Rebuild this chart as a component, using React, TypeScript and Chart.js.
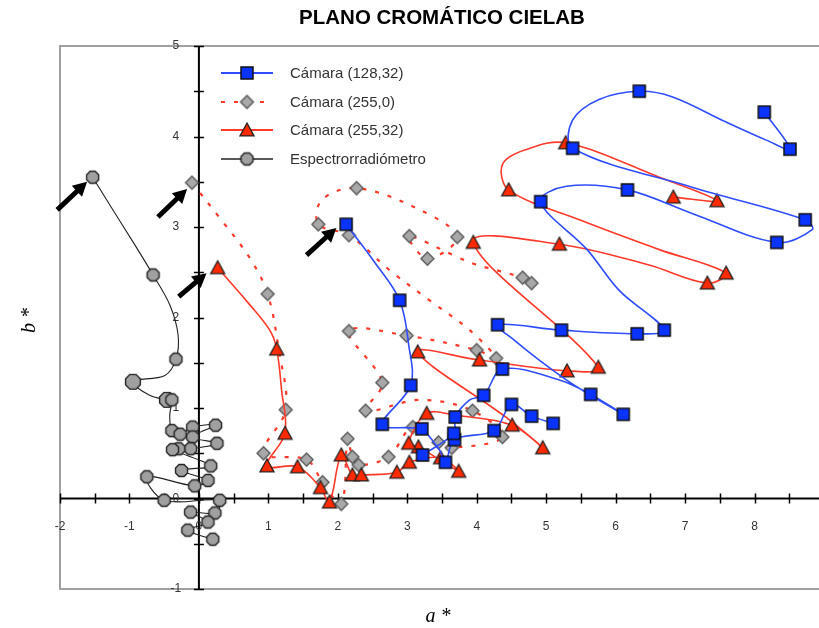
import React, { useEffect, useRef } from "react";
import { Chart, registerables } from "chart.js";

Chart.register(...registerables);

// Axis ranges and tick labels of the CIELAB a*/b* plane
const aRange = [-2, 9];
const bRange = [-1, 5];
const aTickLabels = [-2, -1, 0, 1, 2, 3, 4, 5, 6, 7, 8, 9];
const bTickLabels = [-1, 0, 1, 2, 3, 4, 5];
const chartTitle = "PLANO CROMÁTICO CIELAB";
const seriesNames = ["Cámara (128,32)", "Cámara (255,0)", "Cámara (255,32)", "Espectrorradiómetro"];

// Each trace: a*, b*, and a flag per sample (1 = measured sample with marker,
// 2 = measured sample drawn larger, 0 = point on the fitted curve). null breaks the trace.
const cam128A = [2.12, 2.53, 2.89, 3.02, 3.05, 2.64, 3.06, 3.21, 3.46, 3.55, 3.68, 4.25, 4.5, 4.79, 5.1,
  null,
  3.22, 3.67, 3.69, 3.9, 4.1, 4.37, 5.19, 5.64, 6.11, 5.41, 4.9, 4.54, 4.3, 5.22, 6.31, 6.7, 6.05, 5.59, 4.92,
  5.29, 6.17, 7.1, 8.32, 8.83, 8.73, 7.1, 5.38, 5.38, 5.76, 6.34, 6.81, 7.59, 8.17, 8.51, 8.14];
const cam128B = [3.03, 2.61, 2.19, 1.7, 1.25, 0.82, 0.78, 0.77, 0.54, 0.4, 0.65, 0.75, 1.04, 0.91, 0.83,
  null,
  0.48, 0.72, 0.9, 1.09, 1.14, 1.43, 1.31, 1.15, 0.93, 1.25, 1.53, 1.75, 1.92, 1.86, 1.82, 1.86, 2.3, 2.75, 3.28,
  3.45, 3.41, 3.15, 2.83, 2.97, 3.08, 3.44, 3.87, 4.18, 4.41, 4.5, 4.44, 4.16, 3.96, 3.86, 4.27];
const cam128M = [1, 0, 1, 0, 1, 1, 0, 1, 0, 1, 1, 1, 1, 1, 1,
  0,
  1, 1, 1, 0, 1, 1, 0, 1, 1, 0, 0, 0, 1, 1, 1, 1, 0, 0, 1,
  0, 1, 0, 1, 0, 1, 0, 1, 0, 0, 1, 0, 0, 0, 1, 1];

const cam2550A = [-0.1, 0.3, 0.73, 0.99, 1.15, 1.25, 0.93, 1.55, 1.78, 2.05, 2.14, 2.21, 2.3, 2.73, 3.08, 3.45,
  3.64, 4.37, 3.94, 3.18, 2.4, 2.64, 2.16, 2.99, 4.0, 4.28, 3.9, 3.32, 2.75, 2.16, 1.72, 1.77, 2.27, 3.18, 3.72,
  3.29, 3.03, 3.9, 4.66, 4.79];
const cam2550B = [3.49, 3.1, 2.66, 2.26, 1.64, 0.98, 0.5, 0.43, 0.18, -0.06, 0.66, 0.46, 0.37, 0.46, 0.79, 0.62,
  0.56, 0.68, 0.97, 1.09, 0.97, 1.28, 1.85, 1.8, 1.64, 1.55, 1.86, 2.19, 2.52, 2.91, 3.03, 3.3, 3.43, 3.19, 2.89,
  2.65, 2.9, 2.61, 2.44, 2.38];
const cam2550M = [1, 0, 0, 1, 0, 1, 1, 1, 1, 1, 1, 1, 1, 1, 1, 1,
  1, 1, 1, 0, 1, 1, 1, 1, 1, 1, 0, 0, 0, 1, 1, 0, 1, 0, 1,
  1, 1, 0, 1, 1];

const cam25532A = [0.27, 0.7, 1.02, 1.12, 1.19, 1.24, 0.98, 1.42, 1.75, 1.88, 2.05, 2.21, 2.34, 2.85, 3.03, 3.48,
  3.74, 3.16, 3.02, 3.28, 3.69, 4.51, 4.95, 4.47, 3.15, 4.04, 5.3, 5.75, 3.95, 5.19, 6.48, 7.32, 7.59, 6.63, 5.48,
  4.46, 4.37, 4.69, 5.28, 6.63, 7.46, 6.83];
const cam25532B = [2.55, 2.17, 1.86, 1.65, 1.2, 0.72, 0.36, 0.35, 0.12, -0.04, 0.48, 0.26, 0.26, 0.29, 0.4, 0.45,
  0.3, 0.57, 0.61, 0.94, 0.92, 0.81, 0.56, 0.87, 1.62, 1.53, 1.41, 1.45, 2.83, 2.81, 2.58, 2.38, 2.49, 2.75, 3.08,
  3.41, 3.69, 3.85, 3.93, 3.55, 3.29, 3.33];
const cam25532M = [1, 0, 0, 1, 0, 1, 1, 1, 1, 1, 1, 1, 1, 1, 1, 1,
  1, 1, 1, 1, 0, 1, 1, 0, 1, 1, 1, 1, 1, 1, 0, 1, 1, 0, 0,
  1, 0, 0, 1, 0, 1, 1];

const spectroA = [-1.53, -1.28, -0.92, -0.66, -0.42, -0.3, -0.33, -0.49, -0.95, -0.71, -0.46, -0.39, -0.42, -0.39,
  -0.27, -0.09, 0.24, -0.09, 0.26, -0.12, -0.29, -0.38, 0.17, -0.25, 0.13, -0.06, -0.75, -0.5, 0.3, 0.23, -0.12,
  0.13, -0.16, 0.2];
const spectroB = [3.55, 3.24, 2.8, 2.47, 2.14, 1.81, 1.54, 1.36, 1.29, 1.14, 1.09, 1.09, 0.92, 0.75,
  0.71, 0.79, 0.81, 0.68, 0.61, 0.55, 0.55, 0.54, 0.36, 0.31, 0.2, 0.14, 0.24, -0.02, -0.02, -0.16, -0.15,
  -0.26, -0.35, -0.45];
const spectroM = [1, 0, 0, 1, 0, 0, 1, 0, 2, 0, 2, 1, 0, 1,
  1, 1, 1, 1, 1, 1, 1, 1, 1, 1, 1, 1, 1, 1, 1, 1, 1,
  1, 1, 1];

// Arrows marking where each trace starts (tail -> tip, in a*/b* units)
const arrowTailA = [-2.04, -0.59, -0.29, 1.55];
const arrowTailB = [3.19, 3.11, 2.23, 2.69];
const arrowTipA = [-1.61, -0.17, 0.11, 1.98];
const arrowTipB = [3.5, 3.42, 2.49, 2.99];

type Kind = "square" | "diamond" | "triangle" | "octagon";

function makeMarker(kind: Kind, size: number): HTMLCanvasElement {
  const dim = size + 4;
  const c = document.createElement("canvas");
  c.width = dim;
  c.height = dim;
  const g = c.getContext("2d")!;
  const m = dim / 2;
  const r = size / 2;
  g.beginPath();
  if (kind === "square") {
    g.rect(m - r, m - r, size, size);
    g.fillStyle = "#0b33ff";
    g.strokeStyle = "#111";
    g.lineWidth = 1.5;
  } else if (kind === "triangle") {
    g.moveTo(m, m - r);
    g.lineTo(m + r, m + r * 0.85);
    g.lineTo(m - r, m + r * 0.85);
    g.closePath();
    g.fillStyle = "#ff2a00";
    g.strokeStyle = "#222";
    g.lineWidth = 1.3;
  } else if (kind === "diamond") {
    g.moveTo(m, m - r);
    g.lineTo(m + r, m);
    g.lineTo(m, m + r);
    g.lineTo(m - r, m);
    g.closePath();
    g.fillStyle = "#a8a8a8";
    g.strokeStyle = "#555";
    g.lineWidth = 1.3;
  } else {
    for (let k = 0; k < 8; k++) {
      const t = Math.PI / 8 + (k * Math.PI) / 4;
      const px = m + r * Math.cos(t);
      const py = m + r * Math.sin(t);
      if (k === 0) g.moveTo(px, py);
      else g.lineTo(px, py);
    }
    g.closePath();
    g.fillStyle = "#a0a0a0";
    g.strokeStyle = "#222";
    g.lineWidth = 1.4;
  }
  g.fill();
  g.stroke();
  return c;
}

function toPoints(a: (number | null)[], b: (number | null)[]) {
  return a.map((v, i) => ({ x: v === null ? NaN : v, y: b[i] === null ? NaN : (b[i] as number) }));
}

export default function App() {
  const ref = useRef<HTMLCanvasElement | null>(null);

  useEffect(() => {
    if (!ref.current) return;
    const mk = {
      square: makeMarker("square", 12),
      diamond: makeMarker("diamond", 13),
      triangle: makeMarker("triangle", 14),
      octagon: makeMarker("octagon", 13),
      octagonBig: makeMarker("octagon", 16),
    };

    const styleFor = (marks: number[], small: HTMLCanvasElement, big: HTMLCanvasElement) => ({
      pointStyle: (c: any) => (marks[c.dataIndex] === 2 ? big : small),
      pointRadius: (c: any) => (marks[c.dataIndex] ? 6 : 0),
      pointHoverRadius: (c: any) => (marks[c.dataIndex] ? 6 : 0),
    });

    const planePlugin = {
      id: "cielabPlane",
      beforeDatasetsDraw(chart: any) {
        const { ctx, chartArea: ca, scales } = chart;
        const x = scales.x;
        const y = scales.y;
        const x0 = x.getPixelForValue(0);
        const y0 = y.getPixelForValue(0);
        ctx.save();
        // plot frame
        ctx.strokeStyle = "#a0a0a0";
        ctx.lineWidth = 2;
        ctx.strokeRect(ca.left, ca.top, ca.right - ca.left, ca.bottom - ca.top);
        // axes through the origin
        ctx.strokeStyle = "#000";
        ctx.lineWidth = 2;
        ctx.beginPath();
        ctx.moveTo(ca.left, y0);
        ctx.lineTo(ca.right, y0);
        ctx.moveTo(x0, ca.top);
        ctx.lineTo(x0, ca.bottom);
        ctx.stroke();
        ctx.lineWidth = 1.5;
        ctx.beginPath();
        for (let v = aRange[0]; v <= aRange[1] + 1e-9; v += 0.5) {
          const px = Math.round(x.getPixelForValue(v)) + 0.5;
          ctx.moveTo(px, y0 - 5);
          ctx.lineTo(px, y0 + 5);
        }
        for (let v = bRange[0]; v <= bRange[1] + 1e-9; v += 0.5) {
          const py = Math.round(y.getPixelForValue(v)) + 0.5;
          ctx.moveTo(x0 - 5, py);
          ctx.lineTo(x0 + 5, py);
        }
        ctx.stroke();
        // tick labels
        ctx.fillStyle = "#333";
        ctx.font = "12px 'Liberation Sans', Arial, sans-serif";
        ctx.textAlign = "center";
        ctx.textBaseline = "middle";
        aTickLabels.forEach((v) => ctx.fillText(String(v), x.getPixelForValue(v), y0 + 28));
        bTickLabels.forEach((v) => ctx.fillText(String(v), x0 - 23, y.getPixelForValue(v)));
        ctx.restore();
      },
      afterDatasetsDraw(chart: any) {
        const { ctx, chartArea: ca, scales } = chart;
        const x = scales.x;
        const y = scales.y;
        ctx.save();
        // title
        ctx.fillStyle = "#000";
        ctx.font = "bold 20.5px 'Liberation Sans', Arial, sans-serif";
        ctx.textAlign = "center";
        ctx.textBaseline = "middle";
        ctx.fillText(chartTitle, (ca.left + ca.right) / 2, 18);
        // axis titles
        ctx.font = "italic 20px 'Liberation Serif', 'Times New Roman', serif";
        ctx.fillText("a *", (ca.left + ca.right) / 2 - 4, ca.bottom + 28);
        ctx.save();
        ctx.translate(30, (ca.top + ca.bottom) / 2 + 3);
        ctx.rotate(-Math.PI / 2);
        ctx.fillText("b *", 0, 0);
        ctx.restore();
        // start arrows
        ctx.fillStyle = "#000";
        ctx.strokeStyle = "#000";
        arrowTailA.forEach((ta, i) => {
          const x1 = x.getPixelForValue(ta);
          const y1 = y.getPixelForValue(arrowTailB[i]);
          const x2 = x.getPixelForValue(arrowTipA[i]);
          const y2 = y.getPixelForValue(arrowTipB[i]);
          const ang = Math.atan2(y2 - y1, x2 - x1);
          const head = 14;
          const hw = 7.5;
          const bx = x2 - head * Math.cos(ang);
          const by = y2 - head * Math.sin(ang);
          ctx.lineWidth = 5;
          ctx.beginPath();
          ctx.moveTo(x1, y1);
          ctx.lineTo(bx + 2 * Math.cos(ang), by + 2 * Math.sin(ang));
          ctx.stroke();
          ctx.beginPath();
          ctx.moveTo(x2, y2);
          ctx.lineTo(bx + hw * Math.sin(ang), by - hw * Math.cos(ang));
          ctx.lineTo(bx - hw * Math.sin(ang), by + hw * Math.cos(ang));
          ctx.closePath();
          ctx.fill();
        });
        // legend
        const lx = ca.left + 161;
        const ly = ca.top + 27;
        const rowH = 28.5;
        const samples = [
          { color: "#2f4dff", dash: [] as number[], width: 1.8, img: mk.square },
          { color: "#ff3a2a", dash: [4, 9], width: 2.2, img: mk.diamond },
          { color: "#ff3a2a", dash: [] as number[], width: 1.8, img: mk.triangle },
          { color: "#222", dash: [] as number[], width: 1.3, img: mk.octagon },
        ];
        samples.forEach((s, i) => {
          const yy = Math.round(ly + i * rowH);
          ctx.strokeStyle = s.color;
          ctx.lineWidth = s.width;
          ctx.setLineDash(s.dash);
          ctx.beginPath();
          ctx.moveTo(lx, yy);
          ctx.lineTo(lx + 52, yy);
          ctx.stroke();
          ctx.setLineDash([]);
          ctx.drawImage(s.img, lx + 26 - s.img.width / 2, yy - s.img.height / 2);
          ctx.fillStyle = "#333";
          ctx.font = "15px 'Liberation Sans', Arial, sans-serif";
          ctx.textAlign = "left";
          ctx.textBaseline = "middle";
          ctx.fillText(seriesNames[i], lx + 69, yy + 1);
        });
        ctx.restore();
      },
    };

    const common = { showLine: true, tension: 0.35, spanGaps: false, pointBorderWidth: 0 };

    const chart = new Chart(ref.current, {
      type: "scatter",
      data: {
        datasets: [
          {
            ...common,
            label: seriesNames[0],
            data: toPoints(cam128A, cam128B),
            borderColor: "#2f4dff",
            borderWidth: 1.6,
            ...styleFor(cam128M, mk.square, mk.square),
          },
          {
            ...common,
            label: seriesNames[2],
            data: toPoints(cam25532A, cam25532B),
            borderColor: "#ff3a2a",
            borderWidth: 1.6,
            ...styleFor(cam25532M, mk.triangle, mk.triangle),
          },
          {
            ...common,
            label: seriesNames[1],
            data: toPoints(cam2550A, cam2550B),
            borderColor: "#ff3a2a",
            borderWidth: 2.2,
            borderDash: [4, 9],
            ...styleFor(cam2550M, mk.diamond, mk.diamond),
          },
          {
            ...common,
            label: seriesNames[3],
            data: toPoints(spectroA, spectroB),
            borderColor: "#222",
            borderWidth: 1.1,
            ...styleFor(spectroM, mk.octagon, mk.octagonBig),
          },
        ],
      } as any,
      options: {
        responsive: false,
        animation: false,
        events: [],
        layout: { padding: { left: 60, top: 46, right: 5, bottom: 39 } },
        plugins: { legend: { display: false }, title: { display: false }, tooltip: { enabled: false } },
        scales: {
          x: { type: "linear", min: aRange[0], max: aRange[1], display: false },
          y: { type: "linear", min: bRange[0], max: bRange[1], display: false },
        },
      },
      plugins: [planePlugin],
    });
    return () => chart.destroy();
  }, []);

  return (
    <div style={{ position: "absolute", left: 0, top: 0, width: 819, height: 628, overflow: "hidden", background: "#fff" }}>
      <canvas ref={ref} width={830} height={628} style={{ display: "block" }} />
    </div>
  );
}
